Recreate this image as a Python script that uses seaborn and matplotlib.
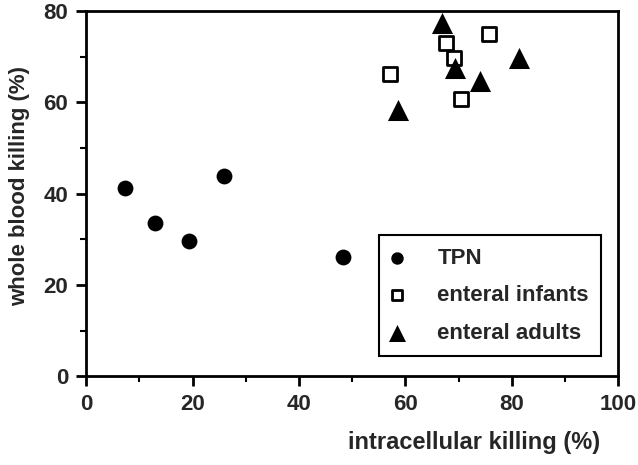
import numpy as np
import pandas as pd
import matplotlib
matplotlib.use("Agg")
import matplotlib.pyplot as plt
import seaborn as sns

# values
tpn_x = [7.3, 13.0, 19.4, 26.0, 48.3]
tpn_y = [41.3, 33.5, 29.6, 43.9, 26.2]

infants_x = [57.1, 67.6, 75.8, 69.1, 70.5]
infants_y = [66.2, 73.1, 74.9, 69.7, 60.7]

adults_x = [58.7, 66.8, 69.3, 74.1, 81.4]
adults_y = [58.3, 77.5, 67.5, 64.8, 69.7]

groups = ["TPN", "enteral infants", "enteral adults"]

df = pd.concat([
    pd.DataFrame({"x": tpn_x, "y": tpn_y, "group": groups[0]}),
    pd.DataFrame({"x": infants_x, "y": infants_y, "group": groups[1]}),
    pd.DataFrame({"x": adults_x, "y": adults_y, "group": groups[2]}),
])

sns.set_style("ticks")
plt.rcParams["font.family"] = ["Liberation Sans", "DejaVu Sans"]

fig = plt.figure(figsize=(6.38, 4.65), dpi=100)
ax = fig.add_axes([0.135, 0.191, 0.834, 0.785])

styles = {
    "TPN": dict(marker="o", s=130, facecolor="black", edgecolor="black", linewidth=0),
    "enteral infants": dict(marker="s", s=100, facecolor="white", edgecolor="black", linewidth=2),
    "enteral adults": dict(marker="^", s=230, facecolor="black", edgecolor="black", linewidth=0),
}

for g in groups:
    sub = df[df["group"] == g]
    sns.scatterplot(data=sub, x="x", y="y", ax=ax, label=g, zorder=3, **styles[g])

ax.set_xlim(0, 100)
ax.set_ylim(0, 80)
ax.set_xticks(np.arange(0, 101, 20))
ax.set_yticks(np.arange(0, 81, 20))
ax.set_xticks(np.arange(10, 100, 20), minor=True)
ax.set_yticks(np.arange(10, 80, 20), minor=True)

for side in ["top", "right", "bottom", "left"]:
    ax.spines[side].set_visible(True)
    ax.spines[side].set_linewidth(2)
    ax.spines[side].set_color("black")

ax.tick_params(which="major", direction="out", length=7, width=2, color="black",
               labelsize=16, pad=6)
ax.tick_params(which="minor", direction="out", length=4, width=1.5, color="black")
for lab in ax.get_xticklabels() + ax.get_yticklabels():
    lab.set_fontweight("bold")

ax.set_xlabel("intracellular killing (%)", fontsize=17, fontweight="bold")
ax.set_ylabel("whole blood killing (%)", fontsize=16, fontweight="bold")
ax.xaxis.set_label_coords(0.73, -0.15)
ax.yaxis.set_label_coords(-0.105, 0.52)

leg = ax.legend(loc="lower right", bbox_to_anchor=(0.968, 0.055), frameon=True,
                fancybox=False, edgecolor="black", fontsize=16, handletextpad=1.5,
                handlelength=0.6, labelspacing=0.75, borderpad=0.55, borderaxespad=0)
leg.get_frame().set_linewidth(1.5)
leg.get_frame().set_alpha(1)
for t in leg.get_texts():
    t.set_fontweight("bold")
leg.legend_handles[0].set_sizes([80])
leg.legend_handles[1].set_sizes([60])
leg.legend_handles[2].set_sizes([150])

fig.savefig("out.png", dpi=100)
